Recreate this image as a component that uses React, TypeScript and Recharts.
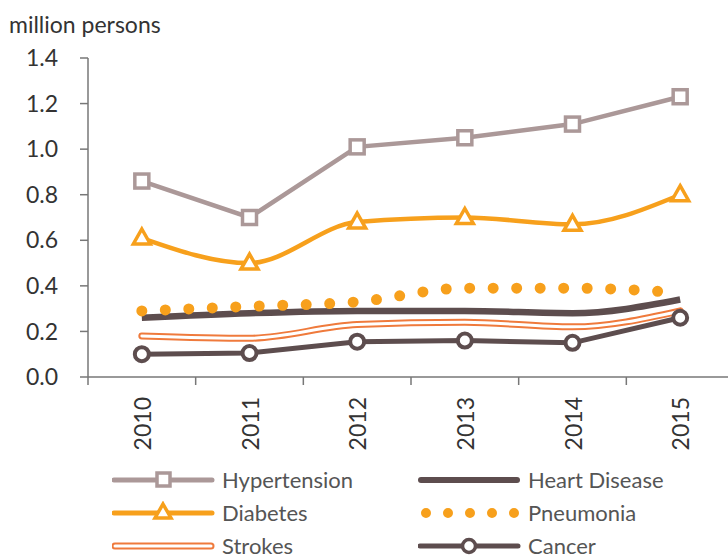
import { LineChart, Line, XAxis, YAxis } from "recharts";

const years = [2010, 2011, 2012, 2013, 2014, 2015];
const hypertension = [0.86, 0.7, 1.01, 1.05, 1.11, 1.23];
const diabetes = [0.61, 0.5, 0.68, 0.7, 0.67, 0.8];
const pneumonia = [0.29, 0.31, 0.33, 0.39, 0.39, 0.37];
const heartDisease = [0.26, 0.28, 0.29, 0.29, 0.28, 0.34];
const strokes = [0.18, 0.17, 0.23, 0.24, 0.22, 0.29];
const cancer = [0.1, 0.105, 0.155, 0.16, 0.15, 0.26];
const yTicks = [0, 0.2, 0.4, 0.6, 0.8, 1.0, 1.2, 1.4];
const boundaryTicks = [2009.5, 2010.5, 2011.5, 2012.5, 2013.5, 2014.5, 2015.5];

const data = years.map((year, i) => ({
  year,
  hypertension: hypertension[i],
  diabetes: diabetes[i],
  pneumonia: pneumonia[i],
  heartDisease: heartDisease[i],
  strokes: strokes[i],
  cancer: cancer[i],
}));

const C_HYP = "#ab9898";
const C_DIA = "#f7a01c";
const C_PNE = "#f7a01c";
const C_HEART = "#5d4d4e";
const C_STROKE = "#ef7a3c";
const C_CANCER = "#5d4d4e";
const FONT = "Lato, 'Open Sans', sans-serif";

const SquareDot = (props: any) => {
  const { cx, cy, index } = props;
  if (cx == null || cy == null) return <g key={index} />;
  return (
    <rect key={index} x={cx - 7} y={cy - 7} width={14} height={14} fill="#fff" stroke={C_HYP} strokeWidth={3.5} />
  );
};

const TriangleDot = (props: any) => {
  const { cx, cy, index } = props;
  if (cx == null || cy == null) return <g key={index} />;
  return (
    <path
      key={index}
      d={`M${cx},${cy - 9} L${cx + 8.5},${cy + 6} L${cx - 8.5},${cy + 6} Z`}
      fill="#fff"
      stroke={C_DIA}
      strokeWidth={3.5}
      strokeLinejoin="miter"
    />
  );
};

const CircleDot = (props: any) => {
  const { cx, cy, index } = props;
  if (cx == null || cy == null) return <g key={index} />;
  return <circle key={index} cx={cx} cy={cy} r={7} fill="#fff" stroke={C_CANCER} strokeWidth={4} />;
};

const YearTick = (props: any) => {
  const { x, y, payload } = props;
  return (
    <text
      x={x}
      y={y}
      transform={`rotate(-90 ${x} ${y})`}
      textAnchor="end"
      dominantBaseline="central"
      fontSize={23}
      fontFamily={FONT}
      fill="#333"
    >
      {payload.value}
    </text>
  );
};

const LegendItem = ({ label, kind }: { label: string; kind: string }) => {
  let icon = null;
  if (kind === "hyp") {
    icon = (
      <>
        <line x1={2} y1={12} x2={100} y2={12} stroke={C_HYP} strokeWidth={5} strokeLinecap="round" />
        <rect x={45} y={5} width={13} height={13} fill="#fff" stroke={C_HYP} strokeWidth={3.5} />
      </>
    );
  } else if (kind === "dia") {
    icon = (
      <>
        <line x1={2} y1={12} x2={100} y2={12} stroke={C_DIA} strokeWidth={5} strokeLinecap="round" />
        <path d="M51,3 L59,17 L43,17 Z" fill="#fff" stroke={C_DIA} strokeWidth={3.5} />
      </>
    );
  } else if (kind === "str") {
    icon = (
      <>
        <line x1={3} y1={12} x2={99} y2={12} stroke={C_STROKE} strokeWidth={7} strokeLinecap="round" />
        <line x1={3} y1={12} x2={99} y2={12} stroke="#fff" strokeWidth={3} strokeLinecap="round" />
      </>
    );
  } else if (kind === "heart") {
    icon = <line x1={3} y1={12} x2={99} y2={12} stroke={C_HEART} strokeWidth={6} strokeLinecap="round" />;
  } else if (kind === "pne") {
    icon = (
      <line x1={8} y1={12} x2={100} y2={12} stroke={C_PNE} strokeWidth={10} strokeLinecap="round" strokeDasharray="0 22" />
    );
  } else {
    icon = (
      <>
        <line x1={2} y1={12} x2={100} y2={12} stroke={C_CANCER} strokeWidth={5} strokeLinecap="round" />
        <circle cx={51} cy={12} r={6.5} fill="#fff" stroke={C_CANCER} strokeWidth={3.5} />
      </>
    );
  }
  return (
    <div style={{ display: "flex", alignItems: "center", height: 33 }}>
      <svg width={104} height={24} style={{ marginRight: 6 }}>
        {icon}
      </svg>
      <span style={{ fontSize: 22, color: "#555", fontFamily: FONT, lineHeight: "24px" }}>{label}</span>
    </div>
  );
};

export default function App() {
  return (
    <div
      style={{
        position: "fixed",
        left: 0,
        top: 0,
        width: 728,
        height: 558,
        overflow: "hidden",
        background: "#fff",
      }}
    >
      <div
        style={{
          position: "absolute",
          left: 9,
          top: 10,
          fontSize: 23,
          color: "#333",
          fontFamily: FONT,
          lineHeight: "28px",
        }}
      >
        million persons
      </div>
      <LineChart
        width={740}
        height={558}
        data={data}
        margin={{ top: 58, right: 6, left: 0, bottom: 101 }}
      >
        <XAxis
          xAxisId="grid"
          dataKey="year"
          type="number"
          domain={[2009.5, 2015.5]}
          ticks={boundaryTicks}
          tick={() => <g />}
          tickSize={8}
          height={10}
          stroke="#777"
          strokeWidth={1.5}
        />
        <XAxis
          xAxisId="main"
          dataKey="year"
          type="number"
          domain={[2009.5, 2015.5]}
          ticks={years}
          axisLine={false}
          tickLine={false}
          tick={<YearTick />}
          tickMargin={4}
          height={70}
        />
        <YAxis
          domain={[0, 1.4]}
          ticks={yTicks}
          tickFormatter={(v: number) => v.toFixed(1)}
          width={88}
          tickSize={8}
          tickMargin={22}
          stroke="#777"
          strokeWidth={1.5}
          tick={{ fontSize: 23, fill: "#333", fontFamily: FONT }}
          interval={0}
        />
        <Line
          xAxisId="main"
          dataKey="heartDisease"
          type="monotone"
          stroke={C_HEART}
          strokeWidth={6.5}
          dot={false}
          isAnimationActive={false}
        />
        <Line
          xAxisId="main"
          dataKey="pneumonia"
          type="monotone"
          stroke={C_PNE}
          strokeWidth={11}
          strokeLinecap="round"
          strokeDasharray="0 23.5"
          dot={false}
          isAnimationActive={false}
        />
        <Line
          xAxisId="main"
          dataKey="strokes"
          type="monotone"
          stroke={C_STROKE}
          strokeWidth={7}
          strokeLinecap="round"
          dot={false}
          isAnimationActive={false}
        />
        <Line
          xAxisId="main"
          dataKey="strokes"
          type="monotone"
          stroke="#fff"
          strokeWidth={3}
          strokeLinecap="round"
          dot={false}
          isAnimationActive={false}
          legendType="none"
        />
        <Line
          xAxisId="main"
          dataKey="cancer"
          type="linear"
          stroke={C_CANCER}
          strokeWidth={5}
          dot={<CircleDot />}
          isAnimationActive={false}
        />
        <Line
          xAxisId="main"
          dataKey="diabetes"
          type="monotone"
          stroke={C_DIA}
          strokeWidth={4.5}
          dot={<TriangleDot />}
          isAnimationActive={false}
        />
        <Line
          xAxisId="main"
          dataKey="hypertension"
          type="linear"
          stroke={C_HYP}
          strokeWidth={4.5}
          dot={<SquareDot />}
          isAnimationActive={false}
        />
      </LineChart>
      <div style={{ position: "absolute", left: 112, top: 463 }}>
        <LegendItem label="Hypertension" kind="hyp" />
        <LegendItem label="Diabetes" kind="dia" />
        <LegendItem label="Strokes" kind="str" />
      </div>
      <div style={{ position: "absolute", left: 418, top: 463 }}>
        <LegendItem label="Heart Disease" kind="heart" />
        <LegendItem label="Pneumonia" kind="pne" />
        <LegendItem label="Cancer" kind="cancer" />
      </div>
    </div>
  );
}
